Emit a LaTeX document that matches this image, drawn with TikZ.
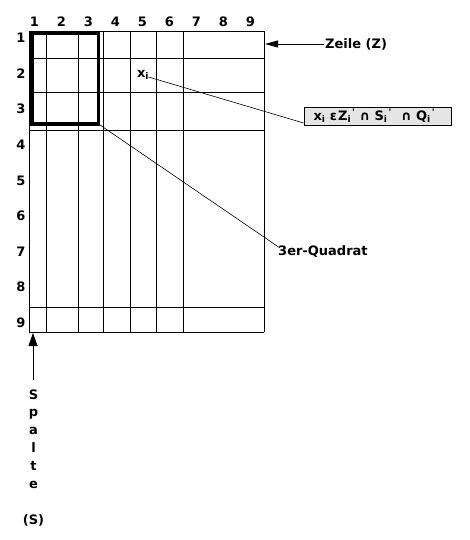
\documentclass[tikz,border=0pt]{standalone}
\usepackage{fontspec}
\setmainfont{DejaVu Sans}
\usetikzlibrary{arrows.meta}
\newcommand{\idx}[1]{\textsubscript{#1}}
\newcommand{\idxmark}[1]{\textsubscript{#1}\kern1pt\textsuperscript{\textquotesingle}}
\begin{document}
\begin{tikzpicture}[x = 1pt, y = -1pt, font = \fontsize{13}{15}\selectfont\bfseries]
    \useasboundingbox (0, 0) rectangle (470, 540);
    % grid
    \foreach \gx in {29, 46, 78, 103, 130, 156, 183, 264}
        \draw [line width = 0.9pt] (\gx, 31) -- (\gx, 332);
    \foreach \gy in {31, 58, 92, 130, 307, 332}
        \draw [line width = 0.9pt] (29, \gy) -- (264, \gy);
    \foreach \k in {1, ..., 9} {
        \node (col\k) at ({34.5 + 27*(\k-1)}, 21.5) {\k};
        \node (row\k) at (21, {38 + 35.6*(\k-1)}) {\k};
    }
    \draw [line width = 3.5pt] (32, 33.5) rectangle (98.5, 124);
    \coordinate (quadrat) at (98.5, 124);
    \node (xi) at (143, 75) {x\idx{i}};
    \node (formel) [draw, fill = gray!20, line width = 0.8pt, text width = 128pt, align = left, inner xsep = 9.5pt, minimum height = 18pt, inner ysep = 0pt] at (377.5, 116)
        {x\idx{i} ε\kern1pt Z\idxmark{i} ∩ S\idxmark{i}\hspace{5pt} ∩ Q\idxmark{i}};
    \draw [line width = 0.6pt] ([xshift = -4pt, yshift = -2pt]xi.east) -- ([yshift = -7pt]formel.west);
    \node (qlabel) [anchor = west, inner sep = 1pt] at (277, 252) {3er-Quadrat};
    \draw [line width = 0.6pt] (quadrat) -- ([xshift = 3pt, yshift = 4pt]qlabel.west);
    % Zeile
    \node (zeile) [anchor = west, inner sep = 1pt] at (324, 44) {Zeile (Z)};
    \coordinate (zende) at (265, 44);
    \draw [line width = 0.8pt, -{Triangle[length = 13pt, width = 7pt]}] (zeile.west) -- (zende);
    % Spalte
    \foreach \ch [count = \k] in {S, p, a, l, t, e}
        \node (sp\k) [anchor = base, inner sep = 0pt] at (33.5, {399 + 17.8*(\k-1)}) {\ch};
    \node (spS) [anchor = base, inner sep = 0pt] at (33.5, 524) {(S)};
    \coordinate (sende) at (33, 333);
    \draw [line width = 0.8pt, -{Triangle[length = 13pt, width = 9pt]}] (33, 380) -- (sende);
\end{tikzpicture}
\end{document}
